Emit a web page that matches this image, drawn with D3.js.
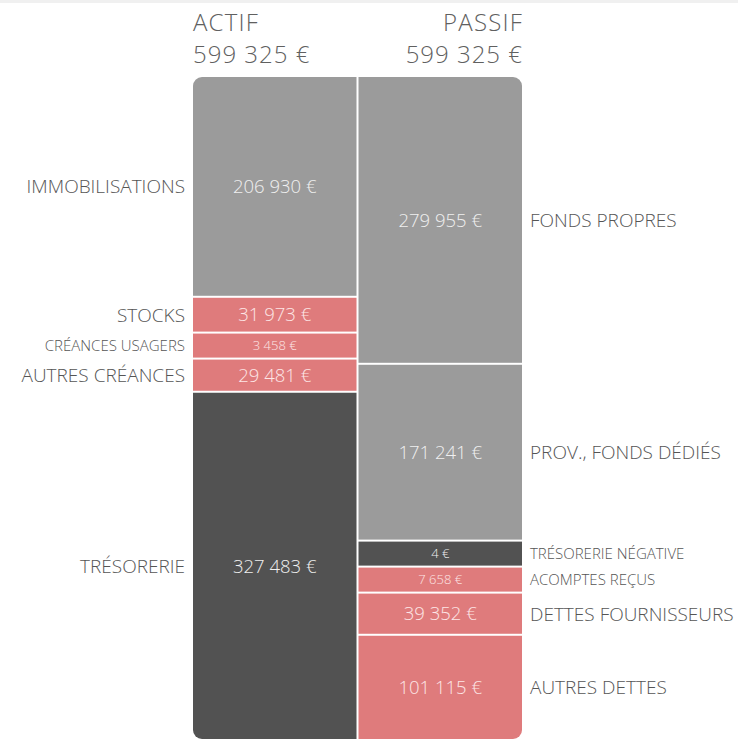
<!DOCTYPE html>
<html><head><meta charset="utf-8">
<script src="https://cdn.jsdelivr.net/npm/d3@7"></script>
<style>
html,body{margin:0;padding:0;background:#fff;}
svg{display:block;font-family:"Open Sans",sans-serif;}
</style></head>
<body>
<svg id="c" width="738" height="742"></svg>
<script>
const sides = ["ACTIF", "PASSIF"];
const actifLabels = ["IMMOBILISATIONS", "STOCKS", "CRÉANCES USAGERS", "AUTRES CRÉANCES", "TRÉSORERIE"];
const actifValues = [206930, 31973, 3458, 29481, 327483];
const actifTypes = ["fixed", "receivable", "receivable", "receivable", "cash"];
const passifLabels = ["FONDS PROPRES", "PROV., FONDS DÉDIÉS", "TRÉSORERIE NÉGATIVE", "ACOMPTES REÇUS", "DETTES FOURNISSEURS", "AUTRES DETTES"];
const passifValues = [279955, 171241, 4, 7658, 39352, 101115];
const passifTypes = ["fixed", "fixed", "cash", "debt", "debt", "debt"];

const colors = {fixed: "#9b9b9b", receivable: "#df7b7c", cash: "#525252", debt: "#df7b7c"};
const valueColors = {fixed: "#f0f0f0", receivable: "#fde6e6", cash: "#f0f0f0", debt: "#fde6e6"};

const svg = d3.select("#c");
const yTop = 77, yBottom = 739, gap = 2, minH = 24;
const fmt = v => d3.format(",")(v).replace(/,/g, " ") + " €";

const x = d3.scaleBand().domain(sides).range([193, 522]).paddingInner(0.0121).paddingOuter(0);

// faint top border
svg.append("rect").attr("x", 0).attr("y", 0).attr("width", 738).attr("height", 3).attr("fill", "#f0f0f0");

const defs = svg.append("defs");
defs.append("clipPath").attr("id", "clip")
  .append("rect").attr("x", x("ACTIF")).attr("y", yTop)
  .attr("width", x("PASSIF") + x.bandwidth() - x("ACTIF")).attr("height", yBottom - yTop).attr("rx", 9);

const g = svg.append("g").attr("clip-path", "url(#clip)");

function layout(values) {
  const avail = (yBottom - yTop) - gap * (values.length - 1);
  const total = d3.sum(values);
  let k = avail / total;
  for (let i = 0; i < 10; i++) {
    const small = values.filter(v => v * k < minH);
    const big = values.filter(v => v * k >= minH);
    k = (avail - small.length * minH) / d3.sum(big);
  }
  const h = d3.scaleLinear().domain([0, total]).range([0, total * k]);
  let y = yTop;
  return values.map(v => {
    const hh = Math.max(minH, h(v));
    const r = {y0: y, h: hh};
    y += hh + gap;
    return r;
  });
}

function drawSide(side, labels, values, types, labelX, anchor) {
  const lay = layout(values);
  const data = values.map((v, i) => ({v, label: labels[i], type: types[i], ...lay[i]}));
  g.selectAll(null).data(data).enter().append("rect")
    .attr("x", x(side)).attr("width", x.bandwidth())
    .attr("y", d => d.y0).attr("height", d => d.h)
    .attr("fill", d => colors[d.type]);
  g.selectAll(null).data(data).enter().append("text")
    .attr("x", x(side) + x.bandwidth() / 2)
    .attr("y", d => d.y0 + d.h / 2)
    .attr("dy", "0.36em").attr("text-anchor", "middle")
    .attr("font-size", d => d.h < 30 ? 13 : 18.5)
    .attr("font-weight", 300)
    .attr("fill", d => valueColors[d.type])
    .text(d => fmt(d.v));
  svg.selectAll(null).data(data).enter().append("text")
    .attr("x", labelX)
    .attr("y", d => d.y0 + d.h / 2)
    .attr("dy", "0.36em").attr("text-anchor", anchor)
    .attr("font-size", d => d.h < 30 ? 15 : 19)
    .attr("font-weight", 300)
    .attr("fill", "#555")
    .text(d => d.label);
}

drawSide("ACTIF", actifLabels, actifValues, actifTypes, 185, "end");
drawSide("PASSIF", passifLabels, passifValues, passifTypes, 530, "start");

// headers
const totals = [d3.sum(actifValues), d3.sum(passifValues)];
sides.forEach((s, i) => {
  const ax = i === 0 ? x(s) : x(s) + x.bandwidth() + 1;
  const anchor = i === 0 ? "start" : "end";
  svg.append("text").attr("x", ax).attr("y", 31).attr("text-anchor", anchor)
    .attr("font-size", 24).attr("font-weight", 300).attr("letter-spacing", 1.2)
    .attr("fill", "#606060").text(s);
  svg.append("text").attr("x", ax).attr("y", 63).attr("text-anchor", anchor)
    .attr("font-size", 24).attr("font-weight", 300).attr("letter-spacing", 1)
    .attr("fill", "#606060").text(fmt(totals[i]));
});
</script>
</body></html>
